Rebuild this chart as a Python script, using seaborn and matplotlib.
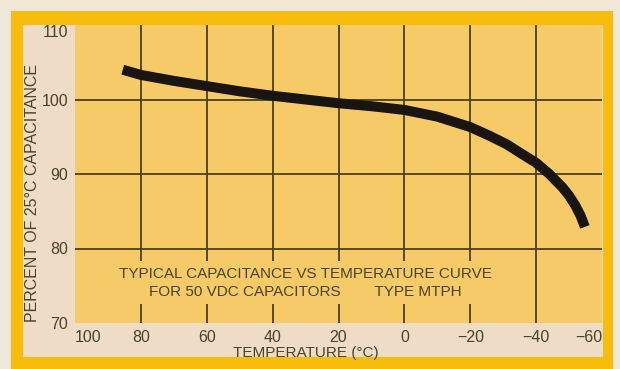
import matplotlib
matplotlib.use("Agg")
import matplotlib.pyplot as plt
import seaborn as sns
import pandas as pd
from matplotlib.patches import Rectangle

# ---- data ----
temperature = [85.5, 80, 70, 60, 50, 40, 30, 20, 10, 0, -10, -20, -26, -31, -36, -40, -44, -48, -50, -52, -53.5, -54.8]
capacitance = [104.0, 103.3, 102.5, 101.8, 101.1, 100.5, 100.0, 99.5, 99.1, 98.6, 97.7, 96.3, 95.1, 94.0, 92.6, 91.5, 90.0, 88.2, 87.1, 85.7, 84.4, 82.9]

x_ticks = [100, 80, 60, 40, 20, 0, -20, -40, -60]
x_tick_labels = ["100", "80", "60", "40", "20", "0", "\u221220", "\u221240", "\u221260"]
y_ticks = [70, 80, 90, 100, 110]
y_tick_labels = ["70", "80", "90", "100", "110"]
grid_x = [80, 60, 40, 20, 0, -20, -40]
grid_y = [80, 90, 100]

caption = ("TYPICAL CAPACITANCE VS TEMPERATURE CURVE\n"
           "FOR 50 VDC CAPACITORS        TYPE MTPH")
x_label = "TEMPERATURE (\u00b0C)"
y_label = "PERCENT OF 25\u00b0C CAPACITANCE"

df = pd.DataFrame({"temp": temperature, "cap": capacitance})

sns.set_theme(style="white")
plt.rcParams["font.family"] = ["Liberation Sans", "DejaVu Sans"]

W, H = 620, 369
fig = plt.figure(figsize=(W / 100, H / 100), dpi=100)
fig.patch.set_facecolor("#efe8d8")

# frame: orange border and cream panel
fig.add_artist(Rectangle((11 / W, 0), (613 - 11) / W, 1 - 11 / H,
                         transform=fig.transFigure, facecolor="#f8bc0c",
                         edgecolor="none", zorder=0))
fig.add_artist(Rectangle((23 / W, 1 - 357 / H), (603 - 23) / W, (357 - 25) / H,
                         transform=fig.transFigure, facecolor="#eedcc6",
                         edgecolor="none", zorder=0))

plot_bg = "#f6ca66"
ax = fig.add_axes([75 / W, 1 - 323 / H, (602 - 75) / W, (323 - 25) / H])
ax.set_facecolor(plot_bg)
for s in ax.spines.values():
    s.set_visible(False)

grid_col = "#4a4020"
for gx in grid_x:
    ax.axvline(gx, color=grid_col, lw=1.3, zorder=1)
for gy in grid_y:
    ax.axhline(gy, color=grid_col, lw=1.3, zorder=1)

sns.lineplot(data=df, x="temp", y="cap", ax=ax, color="#1a1510", lw=7.2,
             solid_capstyle="butt", solid_joinstyle="round", zorder=3, legend=False)

ax.set_xlim(100, -60)
ax.set_ylim(70, 110)

txt_col = "#4a4428"
ax.set_xticks(x_ticks)
ax.set_xticklabels(x_tick_labels)
ax.set_yticks(y_ticks)
ax.set_yticklabels(y_tick_labels)
ax.tick_params(axis="both", length=0, labelsize=11.5, colors=txt_col)
ax.tick_params(axis="x", pad=5)
ax.tick_params(axis="y", pad=5)
xl = ax.get_xticklabels()
xl[0].set_ha("left")
xl[-1].set_ha("right")
yl = ax.get_yticklabels()
yl[-1].set_va("top")
ax.set_xlabel("")
ax.set_ylabel("")

# caption (covers grid lines behind it)
ax.text(0.437, 0.135, caption, transform=ax.transAxes, ha="center", va="center",
        fontsize=11, color=txt_col, linespacing=1.35, multialignment="center",
        zorder=2,
        bbox=dict(boxstyle="square,pad=0.35", facecolor=plot_bg, edgecolor="none"))

fig.text(306 / W, 1 - 353 / H, x_label, ha="center", va="center",
         fontsize=11, color=txt_col)
fig.text(33 / W, 1 - 193 / H, y_label, ha="center", va="center",
         rotation=90, fontsize=11.5, color=txt_col)

fig.savefig("out.png", dpi=100, facecolor=fig.get_facecolor())
